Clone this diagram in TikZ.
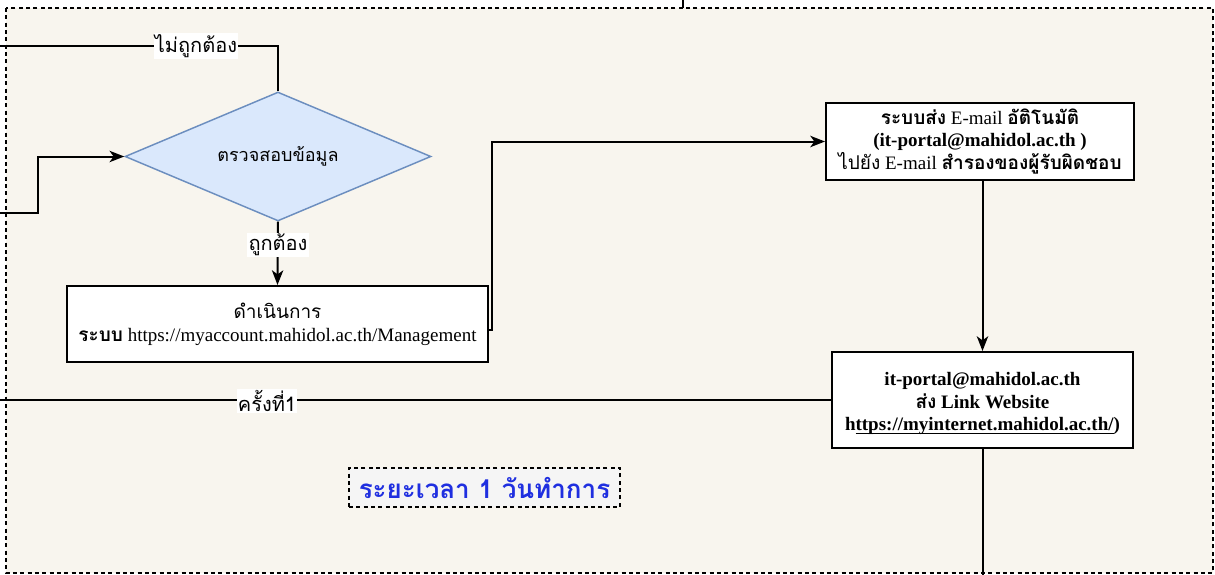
\documentclass[tikz,border=0pt]{standalone}
\usepackage{fontspec}
\setmainfont{Liberation Serif}
\newfontfamily\thai[Script=Thai]{Loma}
\usetikzlibrary{shapes.geometric,arrows.meta}
\definecolor{bgc}{HTML}{F8F5EE}
\definecolor{dfill}{HTML}{DAE8FC}
\definecolor{dline}{HTML}{6C8EBF}
\definecolor{bluetxt}{HTML}{1F2FE0}
\definecolor{durfill}{HTML}{F5F5F5}
\tikzset{
  conn/.style={line width=1.5pt},
  arr/.style={conn,-{Stealth[length=11pt,width=8.5pt,inset=3pt]}},
  procbox/.style={draw,line width=1.5pt,fill=white,rectangle,inner sep=0pt,align=center,
    font=\fontsize{14.25pt}{17pt}\selectfont},
  lbl/.style={fill=white,inner sep=1pt,font=\thai\fontsize{15pt}{17pt}\selectfont},
}
\begin{document}
\begin{tikzpicture}[x=0.75pt,y=-0.75pt]
\useasboundingbox (0,0) rectangle (1215,575);
\draw[dash pattern=on 3pt off 2.5pt,line width=0.8pt,fill=bgc] (6,8) rectangle (1213,573);
\coordinate (T0) at (683,0);
\coordinate (T1) at (683,8);
\draw[line width=1pt] (T0) -- (T1);

\node[diamond,aspect=2.37,draw=dline,fill=dfill,line width=1.1pt,minimum width=229.5pt,minimum height=96.75pt,inner sep=0pt,
  font=\thai\fontsize{13.5pt}{15pt}\selectfont] (dia) at (278,156.5) {ตรวจสอบข้อมูล};

\node[procbox,minimum width=315.75pt,minimum height=57pt] (box1) at (277.5,324)
  {{\thai ดำเนินการ}\\{\thai\bfseries ระบบ} https://myaccount.mahidol.ac.th/Management};

\node[procbox,minimum width=231pt,minimum height=57.75pt] (email) at (980,141.5)
  {{\thai\bfseries ระบบส่ง} E-mail {\thai\bfseries อัติโนมัติ}\\
   \textbf{(it-portal@mahidol.ac.th )}\\
   {\thai ไปยัง} E-mail {\thai\bfseries สำรองของผู้รับผิดชอบ}};

\node[procbox,minimum width=225.75pt,minimum height=72pt] (box3) at (982.5,400)
  {\rule{0pt}{15.5pt}\textbf{it-portal@mahidol.ac.th}\\
   \textbf{{\thai ส่ง} Link Website}\\
   \textbf{h\underline{\smash{ttps://myinternet.mahidol.ac.th/}})}};

\node[draw,dash pattern=on 3pt off 2.5pt,line width=1pt,fill=durfill,minimum width=203.25pt,minimum height=29.25pt,
  inner sep=0pt,text=bluetxt,font=\thai\bfseries\fontsize{19.5pt}{21pt}\selectfont] (dur) at (484.5,487.5)
  {ระยะเวลา 1 วันทำการ};

\coordinate (L1) at (0,46);
\coordinate (L2) at (0,213);
\coordinate (L3) at (0,400);
\coordinate (L4) at (0,575);

\draw[conn] (dia.north) |- (L1);
\node[lbl] (no) at (196,46) {ไม่ถูกต้อง};

\draw[arr] (L2) -- ++(38,0) |- (dia.west);

\draw[arr] (dia.south) -- (box1.north);
\node[lbl] (yes) at (278,245) {ถูกต้อง};

\draw[arr] ([yshift=-4.5pt]box1.east) -- ++(3,0) |- (email.west);

\draw[arr] (email.south -| box3.north) -- (box3.north);

\draw[conn] (box3.west) -- (L3);
\node[lbl] (first) at (267,401) {ครั้งที่1};

\draw[conn] (box3.south) -- (box3.south |- L4);
\end{tikzpicture}
\end{document}
